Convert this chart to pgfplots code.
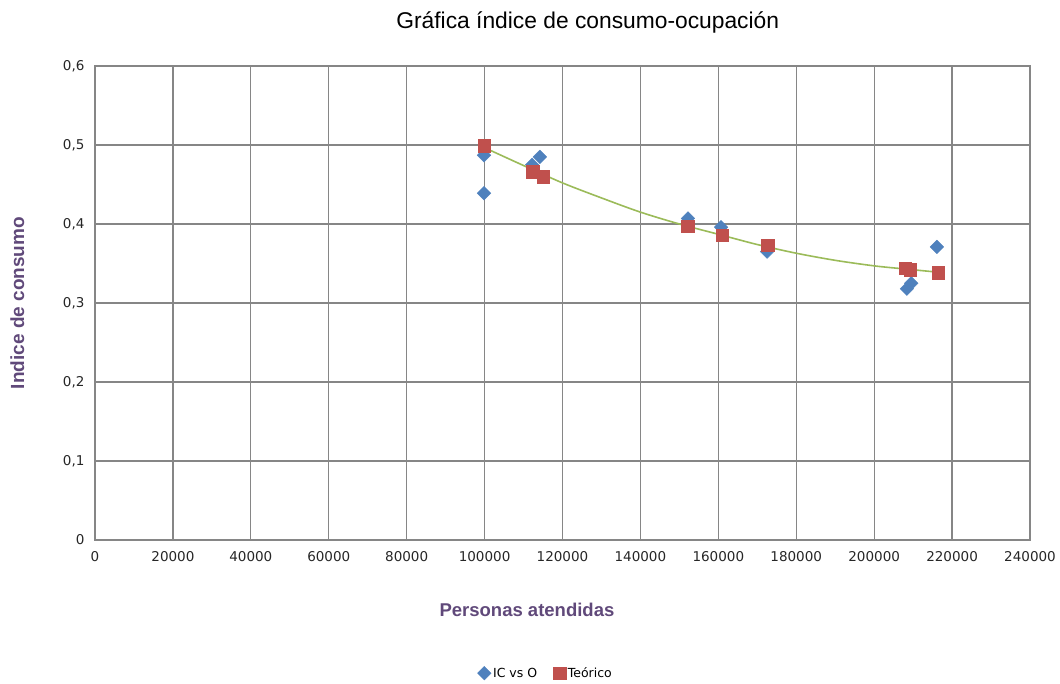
\documentclass[border=0pt]{standalone}
\usepackage{pgfplots}
\pgfplotsset{compat=1.18}
\usepackage{fontspec}
\setmainfont{Liberation Sans}
\newfontfamily\tickfont{DejaVu Sans}
\definecolor{gridgray}{RGB}{134,134,134}
\definecolor{xlblue}{RGB}{79,129,189}
\definecolor{xlred}{RGB}{192,80,77}
\definecolor{xlgreen}{RGB}{155,187,89}
\definecolor{lblpurple}{RGB}{96,73,122}
\begin{document}
\begin{tikzpicture}
\useasboundingbox (0,0) rectangle (1060pt,684pt);
\begin{axis}[
    at={(95pt,144pt)}, anchor=south west,
    scale only axis,
    width=935pt, height=474pt,
    xmin=0, xmax=240000,
    ymin=0, ymax=0.6,
    xtick={0,20000,...,240000},
    ytick={0,0.1,...,0.6},
    scaled x ticks=false,
    scaled y ticks=false,
    major tick length=0pt,
    grid=major,
    grid style={gridgray, line width=1.3pt},
    axis line style={gridgray, line width=1.3pt},
    /pgf/number format/assume math mode=true,
    x tick label style={/pgf/number format/fixed, /pgf/number format/1000 sep={},
        font=\fontsize{13.5}{15}\selectfont\tickfont, text=black!85, yshift=-8pt},
    y tick label style={/pgf/number format/fixed, /pgf/number format/use comma,
        /pgf/number format/precision=1,
        font=\fontsize{13.5}{15}\selectfont\tickfont, text=black!85, xshift=-7pt},
    title={Gráfica índice de consumo-ocupación},
    title style={at={(axis description cs:0.527,1.08)}, anchor=center,
        font=\fontsize{22.8}{26}\selectfont},
    xlabel={Personas atendidas},
    xlabel style={at={(axis description cs:0.462,-0.148)}, anchor=center,
        font=\fontsize{18.5}{22}\selectfont\bfseries, text=lblpurple},
    ylabel={Indice de consumo},
    ylabel style={at={(axis description cs:-0.083,0.5)}, anchor=center,
        font=\fontsize{19}{22}\selectfont\bfseries, text=lblpurple},
    legend columns=2,
    legend style={at={(axis description cs:0.482,-0.281)}, anchor=center,
        draw=none, fill=none, font=\fontsize{12.5}{14}\selectfont\tickfont,
        /tikz/every even column/.append style={column sep=14pt}},
    legend image code/.code={\draw[#1] (0pt,0pt) plot coordinates {(0pt,0pt)};},
]
\addplot[only marks, mark=square*, mark size=4.8pt,
    mark options={rotate=45, fill=xlblue, draw=xlblue}]
coordinates {
(99850,0.439) (99850,0.487) (112200,0.475) (114200,0.485)
(152200,0.407) (160700,0.396) (172500,0.365)
(208400,0.318) (209500,0.325) (216100,0.371)
};
\addlegendentry{IC vs O}
\addplot[only marks, mark=square*, mark size=6.3pt,
    mark options={fill=xlred, draw=xlred}]
coordinates {
(99850,0.499) (112400,0.466) (115000,0.460)
(152200,0.397) (161000,0.386) (172700,0.373)
(208000,0.344) (209200,0.342) (216400,0.338)
};
\addlegendentry{Teórico}
\addplot[xlgreen, line width=1.6pt, smooth, forget plot]
coordinates {
(99800,0.497) (110000,0.474) (120000,0.452) (130000,0.433)
(140000,0.415) (150000,0.400) (160000,0.387) (170000,0.374)
(180000,0.363) (190000,0.354) (200000,0.347) (208000,0.343)
(216400,0.339)
};
\end{axis}
\end{tikzpicture}
\end{document}
